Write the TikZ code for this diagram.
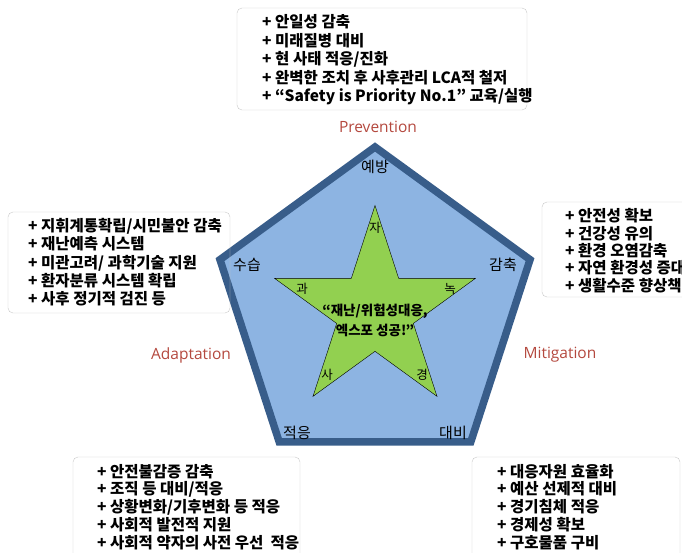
\documentclass[tikz,border=0pt]{standalone}
\usepackage{fontspec}
\setmainfont{Noto Sans CJK KR}
\newfontfamily\latinsans{Open Sans}
\usetikzlibrary{shapes.geometric,calc}
\definecolor{pentafill}{RGB}{141,180,226}
\definecolor{pentaedge}{RGB}{56,93,138}
\definecolor{starfill}{RGB}{146,208,80}
\definecolor{axislabel}{RGB}{180,72,62}
\definecolor{boxline}{RGB}{200,200,200}
\tikzset{
	listbox/.style={draw=boxline, rounded corners=5pt},
	listline/.style={anchor=base west, inner sep=0pt, font=\bfseries\fontsize{15.5}{18}\selectfont},
	cornerlabel/.style={inner sep=0pt, font=\fontsize{15}{17}\selectfont},
	starletter/.style={inner sep=0pt, font=\fontsize{12.5}{15}\selectfont},
	axisname/.style={inner sep=0pt, text=axislabel, font=\latinsans\fontsize{15.5}{18}\selectfont}
}
\begin{document}
\begin{tikzpicture}[x=1pt,y=-1pt]
	\useasboundingbox (0,0) rectangle (682,553);
	\clip (0,0) rectangle (682,553);
	\coordinate (c) at (375,310);
	\draw[line width=7.5pt, draw=pentaedge, fill=pentafill, line join=miter]
		($(c)+(-90:163)$) -- ($(c)+(-18:163)$) -- ($(c)+(54:163)$) -- ($(c)+(126:163)$) -- ($(c)+(198:163)$) -- cycle;
	\node[star, star points=5, star point ratio=2.618, minimum size=211pt, inner sep=0pt, draw=black, thin, fill=starfill] (star) at (375,311) {};
	\node[inner sep=0pt, align=center, font=\bfseries\fontsize{13.5}{20}\selectfont] (motto) at (375,320) {“재난/위험성대응,\\엑스포 성공!”};

	\node[cornerlabel] (yebang) at (375,167) {예방};
	\node[cornerlabel] (gamchuk) at (503,265) {감축};
	\node[cornerlabel] (daebi) at (453,433) {대비};
	\node[cornerlabel] (jeogeung) at (297,433) {적응};
	\node[cornerlabel] (suseup) at (247,265) {수습};

	\node[starletter] (ja) at (375,228) {자};
	\node[starletter] (nok) at (450,289) {녹};
	\node[starletter] (gyeong) at (422,375) {경};
	\node[starletter] (sa) at (327,375) {사};
	\node[starletter] (gwa) at (302,289) {과};

	\node[axisname] (prevention) at (378,127) {Prevention};
	\node[axisname] (mitigation) at (560,355) {Mitigation};
	\node[axisname] (adaptation) at (191,355) {Adaptation};

	\draw[listbox] (237,8) rectangle (527,110);
	\foreach \t [count=\i] in {안일성 감축, 미래질병 대비, 현 사태 적응/진화, 완벽한 조치 후 사후관리 LCA적 철저, “Safety is Priority No.1” 교육/실행}
	{
		\node[listline] (prev\i) at (262,28+18.5*\i-18.5) {+ \t};
	}

	\draw[listbox] (8,212) rectangle (230,313);
	\foreach \t [count=\i] in {지휘계통확립/시민불안 감축, 재난예측 시스템, 미관고려/ 과학기술 지원, 환자분류 시스템 확립, 사후 정기적 검진 등}
	{
		\node[listline] (rec\i) at (28,232+18*\i-18) {+ \t};
	}

	\draw[listbox] (542,202) rectangle (700,297);
	\foreach \t [count=\i] in {안전성 확보, 건강성 유의, 환경 오염감축, 자연 환경성 증대, 생활수준 향상책}
	{
		\node[listline] (miti\i) at (565,222+17.3*\i-17.3) {+ \t};
	}

	\draw[listbox] (73,457) rectangle (300,580);
	\foreach \t [count=\i] in {안전불감증 감축, 조직 등 대비/적응, 상황변화/기후변화 등 적응, 사회적 발전적 지원, 사회적 약자의 사전 우선\ \ 적응}
	{
		\node[listline] (adap\i) at (97,477+17.8*\i-17.8) {+ \t};
	}

	\draw[listbox] (472,457) rectangle (680,580);
	\foreach \t [count=\i] in {대응자원 효율화, 예산 선제적 대비, 경기침체 적응, 경제성 확보, 구호물품 구비}
	{
		\node[listline] (prep\i) at (497,477+17.8*\i-17.8) {+ \t};
	}
\end{tikzpicture}
\end{document}
